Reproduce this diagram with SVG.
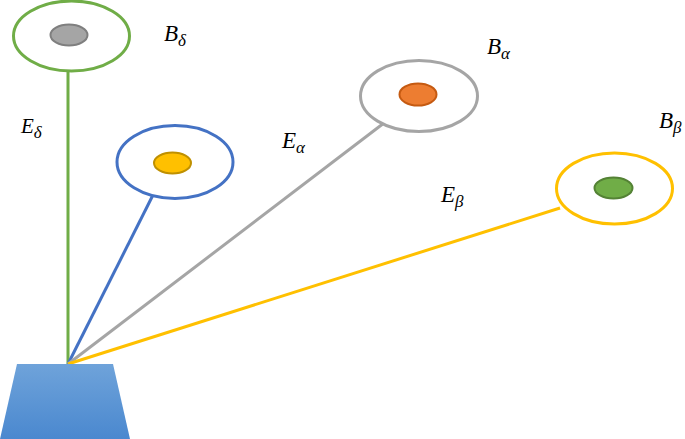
<svg xmlns="http://www.w3.org/2000/svg" width="685" height="439" viewBox="0 0 685 439">
<defs>
<linearGradient id="g" x1="0" y1="0" x2="0" y2="1">
<stop offset="0" stop-color="#6fa3da"/>
<stop offset="1" stop-color="#4a88cf"/>
</linearGradient>
<style>
.o{fill:#fff;stroke-width:3}
.lbl{font-family:"Liberation Serif",serif;font-style:italic;font-size:23px;fill:#000}
.sub{font-size:17px}
.c{fill:none;stroke-width:3}
</style>
</defs>
<g id="connectors">
<line class="c" x1="68" y1="72" x2="68" y2="364" stroke="#70ad47"/>
<line class="c" x1="153" y1="195" x2="68" y2="364" stroke="#4472c4"/>
<line class="c" x1="384" y1="123" x2="68" y2="364" stroke="#a5a5a5"/>
<line class="c" x1="560" y1="208" x2="68" y2="364" stroke="#ffc000"/>
</g>
<g id="base">
<polygon points="17,364 113,364 130,439 0,439" fill="url(#g)"/>
</g>
<g id="node-delta">
<ellipse class="o" cx="71.5" cy="36" rx="58" ry="35" stroke="#70ad47"/>
<ellipse cx="69" cy="35" rx="18.5" ry="10.5" fill="#a5a5a5" stroke="#7f7f7f" stroke-width="2"/>
</g>
<g id="node-blue">
<ellipse class="o" cx="175" cy="162" rx="58" ry="36.5" stroke="#4472c4"/>
<ellipse cx="172.5" cy="163" rx="18.5" ry="10.5" fill="#ffc000" stroke="#bf9000" stroke-width="2"/>
</g>
<g id="node-alpha">
<ellipse class="o" cx="419" cy="96" rx="58.5" ry="35.5" stroke="#a5a5a5"/>
<ellipse cx="418" cy="94.5" rx="18.5" ry="11" fill="#ed7d31" stroke="#c55a11" stroke-width="2"/>
</g>
<g id="node-beta">
<ellipse class="o" cx="614.5" cy="188.5" rx="58" ry="35.5" stroke="#ffc000"/>
<ellipse cx="613.5" cy="188" rx="19" ry="10.5" fill="#70ad47" stroke="#548235" stroke-width="2"/>
</g>
<g id="labels">
<text class="lbl" x="164" y="41">B<tspan class="sub" dy="5">δ</tspan></text>
<text class="lbl" x="21" y="133" style="font-size:21px">E<tspan class="sub" dy="5">δ</tspan></text>
<text class="lbl" x="282" y="148">E<tspan class="sub" dy="5">α</tspan></text>
<text class="lbl" x="487" y="54">B<tspan class="sub" dy="5">α</tspan></text>
<text class="lbl" x="659" y="128">B<tspan class="sub" dy="5">β</tspan></text>
<text class="lbl" x="441" y="202">E<tspan class="sub" dy="5">β</tspan></text>
</g>
</svg>
